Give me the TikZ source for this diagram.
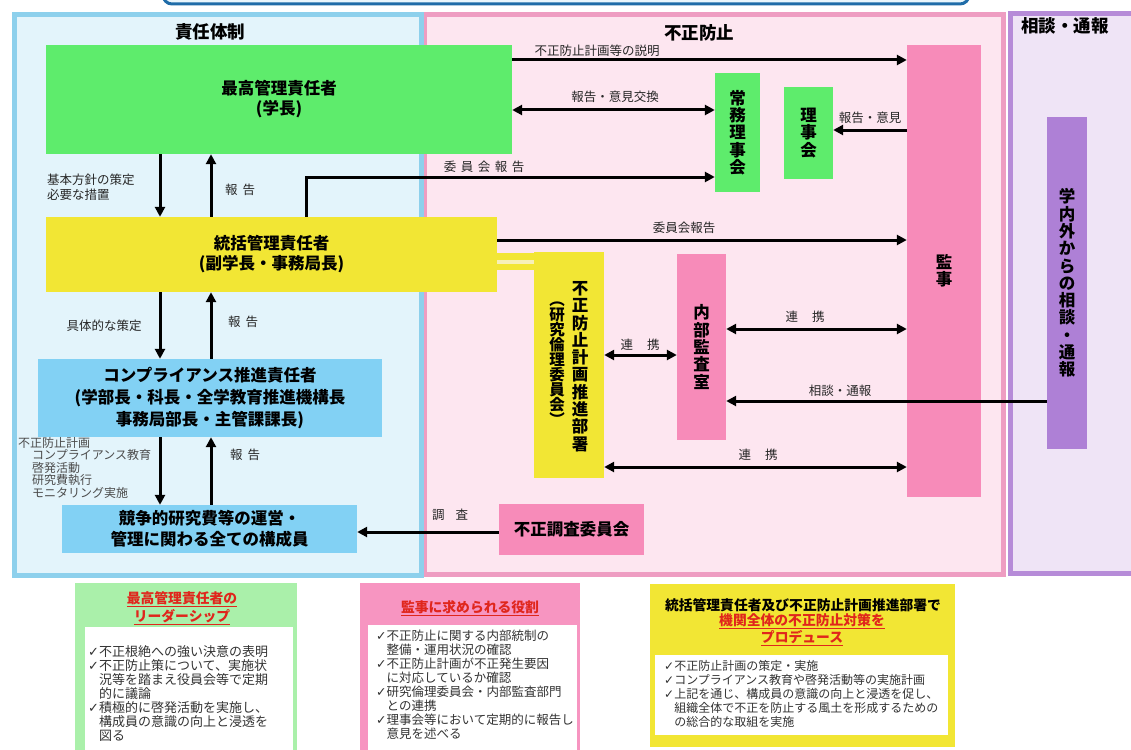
\documentclass[tikz,border=0pt]{standalone}
\usepackage{fontspec}
\setmainfont{Noto Sans CJK JP}
\newfontfamily\djfont{DejaVu Sans}
\usetikzlibrary{arrows.meta}
\definecolor{lbFill}{HTML}{E3F4FB}
\definecolor{lbBorder}{HTML}{8DD0EC}
\definecolor{pkFill}{HTML}{FDE6F0}
\definecolor{pkBorder}{HTML}{EE9DC2}
\definecolor{ppFill}{HTML}{EFE4F6}
\definecolor{ppBorder}{HTML}{B68BD8}
\definecolor{cGreen}{HTML}{5EEC6C}
\definecolor{cYellow}{HTML}{F2E634}
\definecolor{cBlue}{HTML}{82D1F4}
\definecolor{cPink}{HTML}{F78BB9}
\definecolor{cPurple}{HTML}{AE80D6}
\definecolor{bGreen}{HTML}{AAF0AA}
\definecolor{bPink}{HTML}{F795C1}
\definecolor{cRed}{HTML}{E0261C}
\definecolor{barBorder}{HTML}{1F6CA8}
\definecolor{barFill}{HTML}{EAF6FC}
\definecolor{stubPale}{HTML}{F7F0B8}
\newcommand{\chkmark}{{\djfont ✓}}
\newcommand{\indt}{\phantom{\chkmark}}
\begin{document}
\begin{tikzpicture}[x=1pt,y=-1pt,
  box/.style={inner sep=0pt, draw=none, align=center, text=black},
  boxtxt/.style={font=\bfseries\fontsize{16.5}{20}\selectfont},
  vtxt/.style={font=\bfseries\fontsize{16.5}{17.3}\selectfont, align=center, inner sep=0pt},
  ptitle/.style={font=\bfseries\fontsize{17.5}{20}\selectfont, inner sep=0pt},
  lbl/.style={font=\fontsize{12.5}{15}\selectfont, text=black!85, inner sep=0pt},
  arr/.style={line width=3pt, -{Triangle[length=10pt,width=10pt]}},
  darr/.style={line width=3pt, {Triangle[length=10pt,width=10pt]}-{Triangle[length=10pt,width=10pt]}},
  blist/.style={align=left, inner sep=0pt, anchor=north west, text=black!80},
  btitle/.style={font=\bfseries\fontsize{13.8}{17}\selectfont, inner sep=0pt, text=cRed, align=center}
]
\useasboundingbox (0,0) rectangle (1131,749);
\fill[white] (0,0) rectangle (1131,749);

% panels
\draw[line width=5pt, draw=pkBorder, fill=pkFill] (424,14.5) rectangle (1003,574.5);
\draw[line width=5pt, draw=ppBorder, fill=ppFill] (1010,13.5) rectangle (1140,573.5);
\draw[line width=5pt, draw=lbBorder, fill=lbFill] (14.5,14.5) rectangle (421,575);
\draw[line width=3pt, draw=barBorder, fill=barFill, rounded corners=9pt] (163,-30) rectangle (969,4);

\node[ptitle] (t1) at (210,32) {責任体制};
\node[ptitle] (t2) at (699,33) {不正防止};
\node[ptitle] (t3) at (1065,26) {相談・通報};

% boxes
\node[box, boxtxt, fill=cGreen, minimum width=466pt, minimum height=109pt] (top) at (279,99.5) {最高管理責任者\\(学長)};
\node[box, vtxt, fill=cGreen, minimum width=45pt, minimum height=119pt] (jomu) at (737.5,132.5) {常\\務\\理\\事\\会};
\node[box, vtxt, fill=cGreen, minimum width=49pt, minimum height=92pt] (riji) at (808.5,133) {理\\事\\会};
\node[box, vtxt, fill=cPink, minimum width=74pt, minimum height=452pt] (kanji) at (944,271) {監\\事};
\node[box, boxtxt, fill=cYellow, minimum width=451pt, minimum height=75pt] (tokatsu) at (271.5,254.5) {統括管理責任者\\(副学長・事務局長)};
\node[box, fill=cYellow, minimum width=70pt, minimum height=226pt] (fusei) at (569,365) {};
\node[vtxt] (fuseiA) at (580,366.5) {不\\正\\防\\止\\計\\画\\推\\進\\部\\署};
\node[vtxt, font=\bfseries\fontsize{15.5}{15}\selectfont] (fuseiB) at (557,363.5) {︵\\研\\究\\倫\\理\\委\\員\\会\\︶};
\node[box, vtxt, fill=cPink, minimum width=49pt, minimum height=186pt] (naibu) at (701.5,347) {内\\部\\監\\査\\室};
\node[box, font=\bfseries\fontsize{16.5}{22}\selectfont, fill=cBlue, minimum width=344pt, minimum height=78pt] (compl) at (210,398) {コンプライアンス推進責任者\\(学部長・科長・全学教育推進機構長\\事務局部長・主管課課長)};
\node[box, font=\bfseries\fontsize{16.5}{21}\selectfont, fill=cBlue, minimum width=295pt, minimum height=48pt] (kosei) at (209.5,529) {競争的研究費等の運営・\\管理に関わる全ての構成員};
\node[box, boxtxt, fill=cPink, minimum width=145pt, minimum height=51pt] (chosa) at (571.5,529.5) {不正調査委員会};
\node[box, vtxt, fill=cPurple, minimum width=40pt, minimum height=332pt] (purple) at (1067,283) {学\\内\\外\\か\\ら\\の\\相\\談\\・\\通\\報};

% stubs between tokatsu and fusei
\fill[cYellow] (tokatsu.east |- 0,253) rectangle (fusei.west |- 0,270);
\fill[stubPale] (tokatsu.east |- 0,259.5) rectangle (fusei.west |- 0,263.5);

% arrows
\draw[arr] (top.east |- 0,60) -- (kanji.west |- 0,60);
\node[lbl] (l1) at (597,51) {不正防止計画等の説明};
\draw[darr] (top.east |- 0,110) -- (jomu.west |- 0,110);
\node[lbl] (l2) at (615,97) {報告・意見交換};
\draw[arr] (kanji.west |- 0,130) -- (riji.east |- 0,130);
\node[lbl] (l3) at (870,118) {報告・意見};
\draw[arr] (tokatsu.north -| 306,0) |- (jomu.west |- 0,177);
\node[lbl] (l4) at (484,167) {委\hspace{4.5pt}員\hspace{4.5pt}会\hspace{4.5pt}報\hspace{4.5pt}告};
\draw[arr] (top.south -| 160,0) -- (tokatsu.north -| 160,0);
\draw[arr] (tokatsu.north -| 211,0) -- (top.south -| 211,0);
\node[lbl, align=left, anchor=west, font=\fontsize{12.5}{15}\selectfont] (l5) at (47,187) {基本方針の策定\\必要な措置};
\node[lbl] (l6) at (240,190) {報\hspace{5pt}告};
\draw[arr] (tokatsu.east |- 0,240) -- (kanji.west |- 0,240);
\node[lbl] (l7) at (684,228) {委員会報告};
\draw[arr] (tokatsu.south -| 160,0) -- (compl.north -| 160,0);
\draw[arr] (compl.north -| 211,0) -- (tokatsu.south -| 211,0);
\node[lbl] (l8) at (104,326) {具体的な策定};
\node[lbl] (l9) at (243,322) {報\hspace{5pt}告};
\draw[arr] (compl.south -| 160,0) -- (kosei.north -| 160,0);
\draw[arr] (kosei.north -| 211,0) -- (compl.south -| 211,0);
\node[lbl] (l10) at (245,455) {報\hspace{5pt}告};
\node[lbl, align=left, anchor=north west, font=\fontsize{12}{12.5}\selectfont, text=black!70] (l11) at (18,437) {不正防止計画\\\hspace*{14pt}コンプライアンス教育\\\hspace*{14pt}啓発活動\\\hspace*{14pt}研究費執行\\\hspace*{14pt}モニタリング実施};
\draw[darr] (fusei.east |- 0,355) -- (naibu.west |- 0,355);
\node[lbl] (l12) at (640,345) {連\hspace{14pt}携};
\draw[darr] (naibu.east |- 0,329) -- (kanji.west |- 0,329);
\node[lbl] (l13) at (805,317) {連\hspace{14pt}携};
\draw[arr] (purple.west |- 0,401) -- (naibu.east |- 0,401);
\node[lbl] (l14) at (840,391) {相談・通報};
\draw[darr] (fusei.east |- 0,467) -- (kanji.west |- 0,467);
\node[lbl] (l15) at (758,455) {連\hspace{14pt}携};
\draw[arr] (chosa.west |- 0,532) -- (kosei.east |- 0,532);
\node[lbl] (l16) at (450,515) {調\hspace{11pt}査};

% bottom boxes
\fill[bGreen] (75,583) rectangle (297,760);
\fill[white] (85,627) rectangle (293,760);
\node[btitle] (g1) at (182,608) {\underline{最高管理責任者の}\\[1pt]\underline{リーダーシップ}};
\node[blist, font=\fontsize{13}{14}\selectfont] (g2) at (88,645) {\chkmark 不正根絶への強い決意の表明\\\chkmark 不正防止策について、実施状\\\indt 況等を踏まえ役員会等で定期\\\indt 的に議論\\\chkmark 積極的に啓発活動を実施し、\\\indt 構成員の意識の向上と浸透を\\\indt 図る};

\fill[bPink] (360,583) rectangle (580,760);
\fill[white] (368,625) rectangle (577,760);
\node[btitle] (p1) at (470,608) {\underline{監事に求められる役割}};
\node[blist, font=\fontsize{12.5}{14}\selectfont] (p2) at (376,630) {\chkmark 不正防止に関する内部統制の\\\indt 整備・運用状況の確認\\\chkmark 不正防止計画が不正発生要因\\\indt に対応しているか確認\\\chkmark 研究倫理委員会・内部監査部門\\\indt との連携\\\chkmark 理事会等において定期的に報告し\\\indt 意見を述べる};

\fill[cYellow] (650,584) rectangle (955,747);
\fill[white] (655,655) rectangle (948,735);
\node[btitle, text=black] (y1) at (803,605) {統括管理責任者及び不正防止計画推進部署で};
\node[btitle] (y2) at (802,630) {\underline{機関全体の不正防止対策を}\\[0pt]\underline{プロデュース}};
\node[blist, font=\fontsize{12}{14}\selectfont] (y3) at (664,660) {\chkmark 不正防止計画の策定・実施\\\chkmark コンプライアンス教育や啓発活動等の実施計画\\\chkmark 上記を通じ、構成員の意識の向上と浸透を促し、\\\indt 組織全体で不正を防止する風土を形成するための\\\indt の総合的な取組を実施};
\end{tikzpicture}
\end{document}
